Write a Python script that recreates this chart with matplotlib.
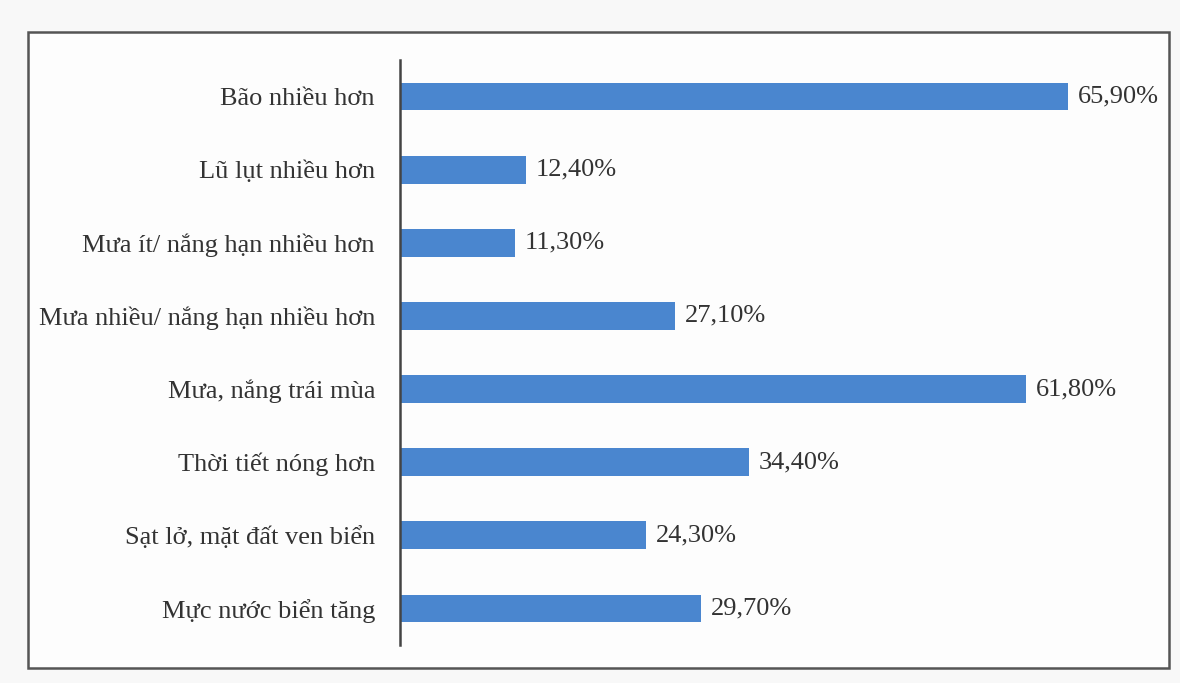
import matplotlib.pyplot as plt
from matplotlib.patches import Rectangle

# --- Data ---
categories = ['Bão nhiều hơn', 'Lũ lụt nhiều hơn', 'Mưa ít/ nắng hạn nhiều hơn',
              'Mưa nhiều/ nắng hạn nhiều hơn', 'Mưa, nắng trái mùa',
              'Thời tiết nóng hơn', 'Sạt lở, mặt đất ven biển', 'Mực nước biển tăng']
values = [65.9, 12.4, 11.3, 27.1, 61.8, 34.4, 24.3, 29.7]
value_labels = ['65,90%', '12,40%', '11,30%', '27,10%', '61,80%', '34,40%', '24,30%', '29,70%']

bar_color = '#4a86cf'
text_color = '#333333'
plt.rcParams['font.family'] = ['Liberation Serif', 'DejaVu Serif']

fig = plt.figure(figsize=(11.8, 6.83), dpi=100, facecolor='#f8f8f8')

# outer frame (behind the axes)
fig.patches.append(Rectangle((28 / 1180, 15 / 683), 1141 / 1180, 636 / 683,
                             transform=fig.transFigure, facecolor='#fdfdfd',
                             edgecolor='#555555', linewidth=1.8, zorder=-1))

ax = fig.add_axes([400 / 1180, 38 / 683, 760 / 1180, 585 / 683])
ax.set_facecolor('none')

y = list(range(len(categories)))
ax.barh(y, values, height=0.38, color=bar_color)

for yi, v, lab in zip(y, values, value_labels):
    ax.text(v + 1.0, yi, lab, va='center', ha='left', fontsize=19, color=text_color)

ax.set_xlim(0, 75)
ax.set_ylim(7.5, -0.5)
ax.set_yticks(y)
ax.set_yticklabels(categories, fontsize=19, color=text_color)
ax.tick_params(axis='y', length=0, pad=18)
ax.set_xticks([])

for side in ['top', 'right', 'bottom']:
    ax.spines[side].set_visible(False)
ax.spines['left'].set_color('#444444')
ax.spines['left'].set_linewidth(1.8)

plt.savefig('out.png', dpi=100, facecolor=fig.get_facecolor())
plt.close()
